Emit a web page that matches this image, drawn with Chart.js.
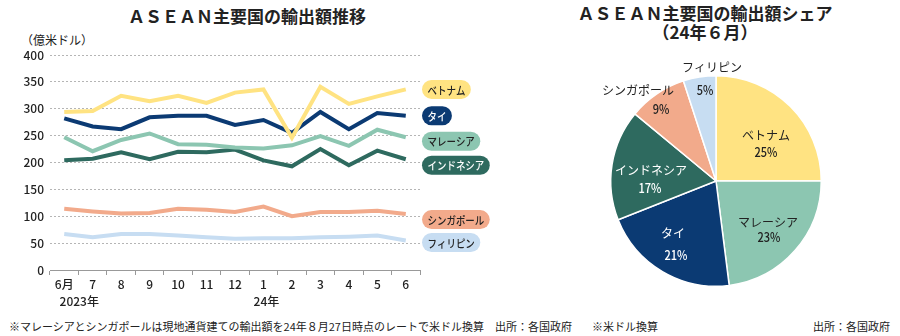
<!DOCTYPE html>
<html lang="ja">
<head>
<meta charset="utf-8">
<script src="https://cdn.jsdelivr.net/npm/chart.js@4.4.1/dist/chart.umd.min.js"></script>
<style>
  body { margin: 0; background: #fff; font-family: 'Noto Sans CJK JP', sans-serif; color: #222; }
  #wrap { position: relative; width: 900px; height: 336px; overflow: hidden; }
  .t { position: absolute; white-space: nowrap; }
  .title { font-size: 17px; font-weight: bold; letter-spacing: 0; }
  canvas { position: absolute; }
</style>
</head>
<body>
<div id="wrap">
  <div class="t title" style="left:0;width:494px;text-align:center;top:3px;">ＡＳＥＡＮ主要国の輸出額推移</div>
  <div class="t" style="left:21px;top:31px;font-size:12px;">（億米ドル）</div>
  <div class="t title" style="left:560px;width:290px;text-align:center;top:3px;line-height:19px;">ＡＳＥＡＮ主要国の輸出額シェア<br>（24年６月）</div>
  <div class="t" style="left:9px;top:318px;font-size:11px;">※マレーシアとシンガポールは現地通貨建ての輸出額を24年８月27日時点のレートで米ドル換算　出所：各国政府</div>
  <div class="t" style="left:592px;top:318px;font-size:11px;">※米ドル換算</div>
  <div class="t" style="left:813px;top:318px;font-size:11px;">出所：各国政府</div>
  <canvas id="lineChart" width="540" height="280" style="left:0;top:30px;"></canvas>
  <canvas id="pieChart" width="320" height="262" style="left:560px;top:50px;"></canvas>
</div>
<script>
// 月別輸出額（億米ドル）
const months = ['6月', '7', '8', '9', '10', '11', '12', '1', '2', '3', '4', '5', '6'];
const vietnam = [294, 296, 324, 314, 324, 311, 330, 336, 246, 341, 309, 323, 336];
const thailand = [282, 267, 262, 284, 287, 287, 270, 279, 255, 294, 262, 292, 287];
const malaysia = [247, 221, 242, 254, 234, 233, 228, 226, 232, 249, 231, 261, 247];
const indonesia = [204, 207, 219, 206, 220, 219, 224, 204, 193, 225, 195, 222, 206];
const singapore = [114, 109, 105, 106, 114, 112, 108, 118, 100, 108, 108, 110, 104];
const philippines = [67, 61, 67, 67, 64, 61, 58, 59, 59, 61, 62, 64, 55];
const countryNames = ['ベトナム', 'タイ', 'マレーシア', 'インドネシア', 'シンガポール', 'フィリピン'];

// シェア（24年6月）
const shareLabels = ['ベトナム', 'マレーシア', 'タイ', 'インドネシア', 'シンガポール', 'フィリピン'];
const shares = [25, 23, 21, 17, 9, 5];

const C = {
  vietnam: '#ffe382',
  thailand: '#0b3a73',
  malaysia: '#8cc6b1',
  indonesia: '#2e6a5f',
  singapore: '#f2aa8b',
  philippines: '#c7ddf2'
};
const FONT = "'Noto Sans CJK JP', sans-serif";
Chart.defaults.font.family = FONT;
Chart.defaults.color = '#222';

// 線の右端の名前ラベル
const pillPlugin = {
  id: 'pills',
  afterDatasetsDraw(chart) {
    const ctx = chart.ctx;
    const y = chart.scales.y;
    const dy = [0, 0, 4, 6, 5.5, 2];
    const textColor = ['#222', '#fff', '#222', '#fff', '#222', '#222'];
    ctx.save();
    ctx.font = '500 11px ' + FONT;
    chart.data.datasets.forEach((ds, i) => {
      const last = ds.data[ds.data.length - 1];
      const cy = y.getPixelForValue(last) + dy[i];
      const x = 422;
      const tw = ctx.measureText(ds.label).width * 0.86;
      const w = tw + 11, h = 19;
      ctx.fillStyle = ds.borderColor;
      ctx.beginPath();
      ctx.roundRect(x, cy - h / 2, w, h, h / 2);
      ctx.fill();
      ctx.save();
      ctx.translate(x + 5.5, cy);
      ctx.scale(0.86, 1);
      ctx.fillStyle = textColor[i];
      ctx.textBaseline = 'middle';
      ctx.fillText(ds.label, 0, 1);
      ctx.restore();
    });
    // 年ラベル
    const xs = chart.scales.x;
    ctx.font = '500 12px ' + FONT;
    ctx.fillStyle = '#222';
    ctx.textAlign = 'center';
    ctx.textBaseline = 'middle';
    ctx.fillText('2023年', xs.getPixelForValue(0) + 15, 271);
    ctx.fillText('24年', xs.getPixelForValue(7) + 3, 271);
    ctx.restore();
  }
};

const series = [vietnam, thailand, malaysia, indonesia, singapore, philippines];
const seriesColors = [C.vietnam, C.thailand, C.malaysia, C.indonesia, C.singapore, C.philippines];

new Chart(document.getElementById('lineChart'), {
  type: 'line',
  data: {
    labels: months,
    datasets: series.map((d, i) => ({
      label: countryNames[i],
      data: d,
      borderColor: seriesColors[i],
      backgroundColor: seriesColors[i],
      borderWidth: 4,
      pointRadius: 0,
      tension: 0
    }))
  },
  options: {
    responsive: false,
    animation: false,
    layout: { padding: { left: 0, right: 120, top: 25, bottom: 0 } },
    plugins: { legend: { display: false }, tooltip: { enabled: false } },
    scales: {
      x: {
        offset: true,
        grid: { offset: true, drawOnChartArea: false, drawTicks: true, tickLength: 5, color: '#999' },
        border: { display: true, color: '#999' },
        ticks: { font: { size: 12, weight: '500' }, padding: 2, maxRotation: 0, autoSkip: false },
        afterFit: s => { s.height = 40; }
      },
      y: {
        min: 0,
        max: 400,
        ticks: { stepSize: 50, font: { size: 12, weight: '500' }, padding: 6 },
        grid: { drawTicks: false, color: '#b5b5b5' },
        border: { display: false, dash: [2, 2] },
        afterFit: s => { s.width = 50; }
      }
    }
  },
  plugins: [pillPlugin]
});

// 円グラフのラベル
const pieLabelPlugin = {
  id: 'pieLabels',
  afterDatasetsDraw(chart) {
    const ctx = chart.ctx;
    const arc = chart.getDatasetMeta(0).data[0];
    const cx = arc.x, cy = arc.y;
    // [名前dx, 名前dy, %dx, %dy]
    const pos = [
      [50, -46, 50, -29],
      [52, 41, 53, 56],
      [-43, 52, -40, 74],
      [-65, -11, -66, 7],
      [-78, -91, -55, -72],
      [-4, -114, -11, -91]
    ];
    const col = ['#222', '#222', '#fff', '#fff', '#222', '#222'];
    ctx.save();
    ctx.textAlign = 'center';
    ctx.textBaseline = 'middle';
    shareLabels.forEach((name, i) => {
      const p = pos[i];
      ctx.fillStyle = col[i];
      ctx.font = '12px ' + FONT;
      ctx.fillText(name, cx + p[0], cy + p[1]);
      ctx.font = '500 13px ' + FONT;
      ctx.save();
      ctx.translate(cx + p[2], cy + p[3]);
      ctx.scale(0.85, 1);
      ctx.fillText(shares[i] + '%', 0, 0);
      ctx.restore();
    });
    ctx.restore();
  }
};

new Chart(document.getElementById('pieChart'), {
  type: 'pie',
  data: {
    labels: shareLabels,
    datasets: [{
      data: shares,
      backgroundColor: [C.vietnam, C.malaysia, C.thailand, C.indonesia, C.singapore, C.philippines],
      borderColor: '#fff',
      borderWidth: 1.5
    }]
  },
  options: {
    responsive: false,
    animation: false,
    layout: { padding: { left: 50, right: 58, top: 25, bottom: 25 } },
    plugins: { legend: { display: false }, tooltip: { enabled: false } }
  },
  plugins: [pieLabelPlugin]
});
</script>
</body>
</html>
